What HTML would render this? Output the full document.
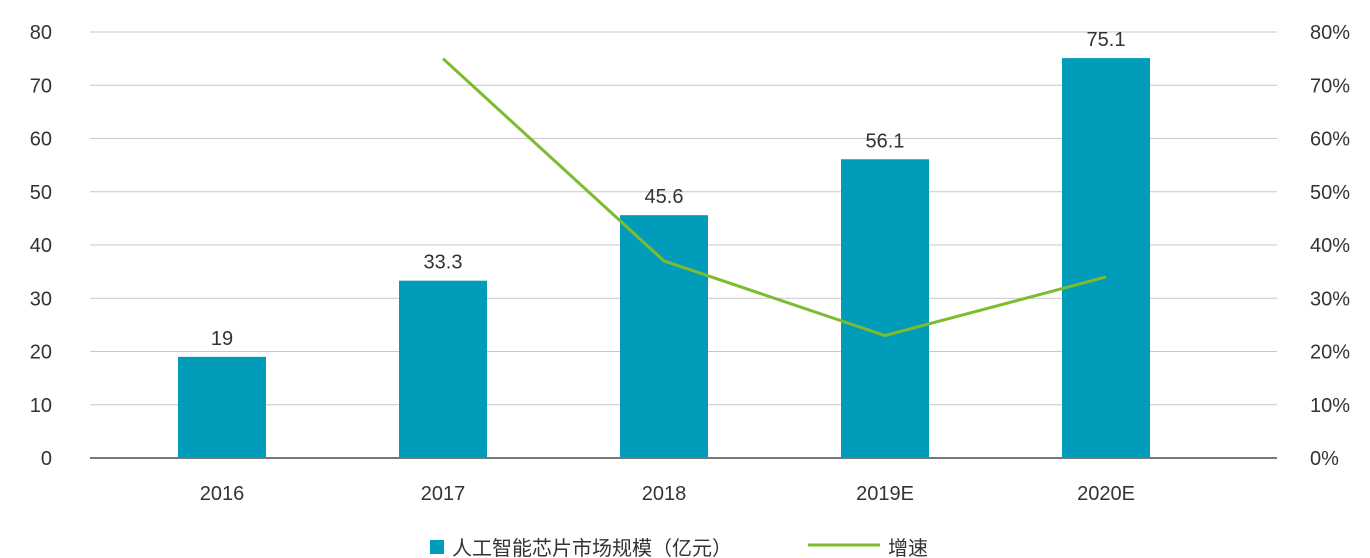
<!DOCTYPE html>
<html><head><meta charset="utf-8"><style>
body{margin:0;background:#fff;}
svg{display:block;font-family:"Liberation Sans","Noto Sans CJK SC",sans-serif;}
</style></head><body>
<svg id="chart" width="1370" height="558" viewBox="0 0 1370 558"></svg>
<script>
const categories=["2016","2017","2018","2019E","2020E"];
const sizeValues=[19,33.3,45.6,56.1,75.1];
const sizeLabels=["19","33.3","45.6","56.1","75.1"];
const growthValues=[null,75,37,23,34];
const leftTicks=[0,10,20,30,40,50,60,70,80];
const rightTicks=["0%","10%","20%","30%","40%","50%","60%","70%","80%"];

const NS="http://www.w3.org/2000/svg";
const svg=document.getElementById('chart');
const X0=90,X1=1277,Y0=458,Y1=32;
const y=v=>Y0-(v/80)*(Y0-Y1);
const yr=p=>Y0-(p/80)*(Y0-Y1);
const xc=i=>222+221*i;
function mk(t,a,txt){const e=document.createElementNS(NS,t);for(const k in a)e.setAttribute(k,a[k]);if(txt!=null)e.textContent=txt;svg.appendChild(e);return e;}

leftTicks.forEach((v,i)=>{
  if(v>0){const g=mk('line',{x1:X0,x2:X1,y1:y(v),y2:y(v),stroke:'#c8c8c8','stroke-width':1});
  
  }
  const t=mk('text',{x:52,y:y(v)+7,'font-size':20,fill:'#333','text-anchor':'end'},String(v));
  
  
  const r=mk('text',{x:1310,y:y(v)+7,'font-size':20,fill:'#333','text-anchor':'start'},rightTicks[i]);
  
  
});
sizeValues.forEach((v,i)=>{
  const b=mk('rect',{x:xc(i)-44,y:y(v),width:88,height:Y0-y(v),fill:'#009cb9'});
  
  
  const l=mk('text',{x:xc(i),y:y(v)-12,'font-size':20,fill:'#333','text-anchor':'middle'},sizeLabels[i]);
  
  
  const c=mk('text',{x:xc(i),y:500,'font-size':20,fill:'#333','text-anchor':'middle'},categories[i]);
  
  
});
const ax=mk('line',{x1:X0,x2:X1,y1:Y0,y2:Y0,stroke:'#777','stroke-width':2});


const pts=growthValues.map((p,i)=>p==null?null:xc(i)+','+yr(p)).filter(Boolean).join(' ');
const pl=mk('polyline',{points:pts,fill:'none',stroke:'#7dbb2f','stroke-width':3});



const ls=mk('rect',{x:430,y:540,width:14,height:14,fill:'#009cb9'});


const lt=mk('text',{x:452,y:555,'font-size':20,fill:'#333'},'人工智能芯片市场规模（亿元）');


const gl=mk('line',{x1:808,x2:880,y1:545,y2:545,stroke:'#7dbb2f','stroke-width':3});


const gt=mk('text',{x:888,y:555,'font-size':20,fill:'#333'},'增速');


</script>
</body></html>
